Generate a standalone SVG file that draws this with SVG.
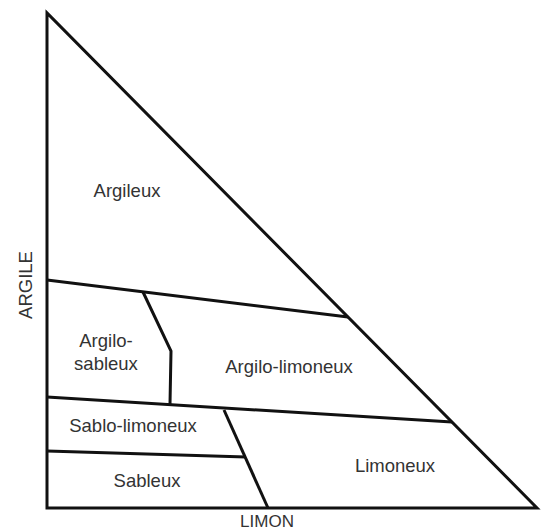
<svg xmlns="http://www.w3.org/2000/svg" width="541" height="531" viewBox="0 0 541 531">
<style>
.l{fill:none;stroke:#111;stroke-width:3;stroke-linejoin:miter;stroke-linecap:butt}
.t{font-family:"Liberation Sans",Arial,sans-serif;font-size:18.5px;fill:#333;text-anchor:middle}
</style>
<rect width="541" height="531" fill="#fff"/>
<g id="connectors">
<path class="l" d="M47,13 L47,508 L537,508 Z"/>
<path class="l" d="M47,280 L348,317"/>
<path class="l" d="M143,292 L171,351 L170,404"/>
<path class="l" d="M47,397 L452,422"/>
<path class="l" d="M224,410 L268,508"/>
<path class="l" d="M47,451 L246,457"/>
</g>
<g id="argileux"><text class="t" x="127" y="197">Argileux</text></g>
<g id="argilo-sableux"><text class="t" x="106" y="347">Argilo-</text><text class="t" x="106" y="370">sableux</text></g>
<g id="argilo-limoneux"><text class="t" x="289" y="373">Argilo-limoneux</text></g>
<g id="sablo-limoneux"><text class="t" x="133" y="432">Sablo-limoneux</text></g>
<g id="sableux"><text class="t" x="147" y="487">Sableux</text></g>
<g id="limoneux"><text class="t" x="395" y="472">Limoneux</text></g>
<g id="axis-limon"><text class="t" x="267" y="527" style="font-size:17px">LIMON</text></g>
<g id="axis-argile"><text class="t" transform="translate(32,285) rotate(-90)" x="0" y="0">ARGILE</text></g>
</svg>
